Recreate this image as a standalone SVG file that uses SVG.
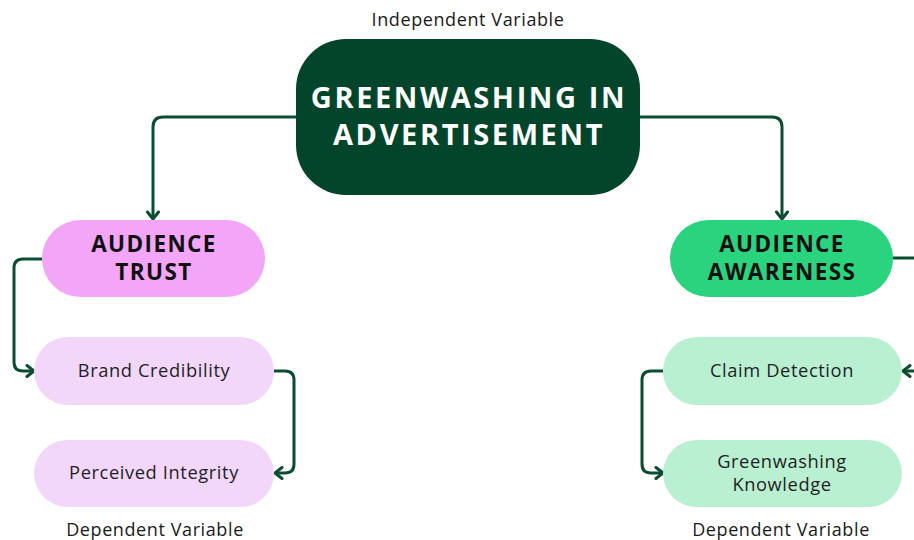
<svg xmlns="http://www.w3.org/2000/svg" width="914" height="540" viewBox="0 0 914 540">
<defs>
<marker id="arr" markerUnits="userSpaceOnUse" viewBox="0 0 14 14" refX="12" refY="7" markerWidth="14" markerHeight="14" orient="auto">
<path d="M5,1.5 L12,7 L5,12.5" fill="none" stroke="#0b4d31" stroke-width="3" stroke-linecap="round" stroke-linejoin="round"/>
</marker>
</defs>
<style>
.conn{fill:none;stroke:#0b4d31;stroke-width:3;stroke-linejoin:round;marker-end:url(#arr)}
.lbl{font-family:"Open Sans",Lato,sans-serif;font-size:18px;fill:#1a1a1a;text-anchor:middle;letter-spacing:0.6px}
.sub{font-family:"Open Sans",Lato,sans-serif;font-size:18.3px;fill:#1f1f1f;text-anchor:middle;letter-spacing:0.6px}
.head{font-family:"Open Sans",Lato,sans-serif;font-weight:bold;font-size:22.5px;fill:#111;text-anchor:middle;letter-spacing:1.4px}
.title{font-family:"Open Sans",Lato,sans-serif;font-weight:bold;font-size:29px;fill:#fff;text-anchor:middle;letter-spacing:2.6px}
</style>
<rect width="914" height="540" fill="#ffffff"/>
<g id="connectors">
<path class="conn" d="M296,117 H163 Q153,117 153,127 V219"/>
<path class="conn" d="M640,117 H772 Q782,117 782,127 V219"/>
<path class="conn" d="M42,259 H23 Q14,259 14,268 V362 Q14,371 23,371 H34"/>
<path class="conn" d="M274,371 H285 Q294,371 294,380 V464 Q294,473 285,473 H275"/>
<path class="conn" d="M663,371 H651 Q642,371 642,380 V464 Q642,473 651,473 H663"/>
<path class="conn" d="M893,258 H925 Q934,258 934,267 V362 Q934,371 925,371 H903"/>
</g>
<g id="label-independent"><text class="lbl" x="468" y="26">Independent Variable</text></g>
<g id="node-greenwashing">
<rect x="296" y="39" width="344" height="156" rx="50" fill="#03452b"/>
<text class="title" x="469" y="108">GREENWASHING IN</text>
<text class="title" x="469" y="145">ADVERTISEMENT</text>
</g>
<g id="node-trust">
<rect x="42" y="220" width="223" height="77" rx="38.5" fill="#f3a6f8"/>
<text class="head" x="154" y="252">AUDIENCE</text>
<text class="head" x="154" y="280">TRUST</text>
</g>
<g id="node-awareness">
<rect x="670" y="220" width="223" height="77" rx="38.5" fill="#2ad47f"/>
<text class="head" x="782" y="252">AUDIENCE</text>
<text class="head" x="782" y="280">AWARENESS</text>
</g>
<g id="node-brand">
<rect x="34" y="337" width="240" height="68" rx="34" fill="#f2d7fb"/>
<text class="sub" x="154" y="377">Brand Credibility</text>
</g>
<g id="node-integrity">
<rect x="34" y="440" width="240" height="67" rx="33.5" fill="#f2d7fb"/>
<text class="sub" x="154" y="479">Perceived Integrity</text>
</g>
<g id="node-claim">
<rect x="663" y="337" width="239" height="68" rx="34" fill="#b9f0d2"/>
<text class="sub" x="782" y="377">Claim Detection</text>
</g>
<g id="node-knowledge">
<rect x="663" y="440" width="239" height="67" rx="33.5" fill="#b9f0d2"/>
<text class="sub" x="782" y="468">Greenwashing</text>
<text class="sub" x="782" y="491">Knowledge</text>
</g>
<g id="label-dependent-left"><text class="lbl" x="155" y="536">Dependent Variable</text></g>
<g id="label-dependent-right"><text class="lbl" x="781" y="536">Dependent Variable</text></g>
</svg>
